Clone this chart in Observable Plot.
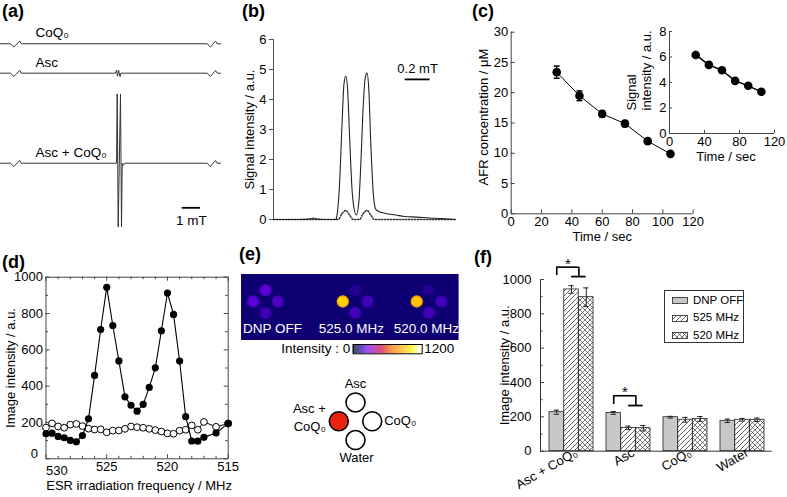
<!DOCTYPE html>
<html><head><meta charset="utf-8">
<script src="https://cdn.jsdelivr.net/npm/d3@7"></script>
<script src="https://cdn.jsdelivr.net/npm/@observablehq/plot@0.6"></script>
<style>
html,body{margin:0;padding:0;background:#fff;}
#fig{position:relative;width:787px;height:497px;overflow:hidden;font-family:"Liberation Sans",Arial,Helvetica,sans-serif;color:#000;background:#fff;}
.lab{position:absolute;font-weight:bold;font-size:18px;line-height:18px;white-space:nowrap;}
.leg{position:absolute;border:1px solid #333;background:#fff;font-size:11.5px;}
.leg div{position:absolute;left:7px;height:14px;line-height:14px;white-space:nowrap;}
.leg svg{vertical-align:middle;margin-right:5px;}
</style></head><body><div id="fig"></div>
<script>
// ================= DATA =================
// (a) ESR spectra (field in mT, intensity in a.u., stacked by offset)
const spectrumNames = ["CoQ₀", "Asc", "Asc + CoQ₀"];
const spectrumOffset = [170.6, 128.6, 0];
const fieldCoQ0 = [0, 0.545, 0.727, 1.05, 1.13, 11.27, 11.45, 11.73, 11.82, 12];
const ampCoQ0   = [0, 0, -4.7, 3.9, 0, 0, -4.7, 3.9, 0, 0];
const fieldAsc  = [0, 0.545, 0.727, 1.05, 1.13, 6.27, 6.33, 6.38, 6.44, 6.52, 6.57, 11.27, 11.45, 11.73, 11.82, 12];
const ampAsc    = [0, 0, -4.7, 3.9, 0, 0, 4.3, -4.3, 4.3, -5, 0, 0, -4.7, 3.9, 0, 0];
const fieldMix  = [0, 0.545, 0.727, 1.05, 1.13, 6.33, 6.365, 6.42, 6.545, 6.60, 6.64, 6.70, 6.76, 11.27, 11.45, 11.73, 11.82, 12];
const ampMix    = [0, 0, -4.7, 3.9, 0, 0, 99, -91, 99, -91, 0, -3, 0, 0, -4.7, 3.9, 0, 0];

// (b) absorption spectrum (relative field, mT)
const fieldB  = [0, 0.2, 0.3, 0.32, 0.34, 0.4, 0.5, 0.505, 0.53, 0.55, 0.565, 0.58, 0.595, 0.61, 0.63, 0.645, 0.665, 0.685, 0.70, 0.72, 0.735, 0.75, 0.765, 0.78, 0.80, 0.815, 0.83, 0.9, 0.98, 1.05, 1.15, 1.25, 1.35, 1.46];
const signalB = [0, 0, 0.02, 0.05, 0.02, 0, 0, 0.05, 1.2, 3.2, 4.5, 4.78, 4.3, 2.8, 1.0, 0.4, 0.15, 0.6, 1.8, 3.8, 4.7, 4.88, 4.3, 2.6, 0.9, 0.4, 0.3, 0.2, 0.15, 0.1, 0.08, 0.05, 0.03, 0];
const fieldB2  = [0, 0.52, 0.55, 0.58, 0.61, 0.64, 0.69, 0.72, 0.75, 0.78, 0.81, 1.46];
const signalB2 = [0, 0, 0.2, 0.3, 0.15, 0, 0, 0.2, 0.3, 0.15, 0, 0];

// (c) AFR decay
const timeSec  = [30, 45, 60, 75, 90, 105];
const afrConc  = [23.4, 19.5, 16.5, 14.9, 12.0, 9.9];
const afrErr   = [1.0, 0.8, 0.5, 0.5, 0.3, 0.2];
const insetSignal = [6.16, 5.38, 4.96, 4.13, 3.74, 3.27];
const insetErr    = [0.3, 0.15, 0.1, 0.1, 0.1, 0.1];

// (d) DNP spectrum
const freqFilled = [530, 529.5, 529, 528.5, 528, 527.5, 527, 526.5, 526, 525.5, 525, 524.5, 524, 523.5, 523, 522.5, 522, 521.5, 521, 520.5, 520, 519.5, 519, 518.5, 518, 517.5, 517, 516, 515];
const intensityAscCoQ0 = [138, 141, 123, 116, 101, 94, 128, 220, 459, 712, 944, 734, 539, 341, 295, 262, 300, 393, 501, 705, 913, 795, 538, 232, 98, 97, 118, 142, 195];
const freqOpen = [530, 529.5, 529, 528.5, 528, 527.5, 527, 526.5, 526, 525.5, 525, 524.5, 524, 523.5, 523, 522.5, 522, 521.5, 521, 520.5, 520, 519.5, 519, 518.5, 518, 517.5, 517, 516, 515];
const intensityAsc = [172, 195, 178, 171, 188, 192, 180, 166, 161, 162, 146, 155, 156, 165, 178, 174, 171, 165, 158, 150, 140, 138, 155, 160, 184, 160, 203, 176, 194];

// (e)/(f) image intensities
const samples = ["Asc + CoQ₀", "Asc", "CoQ₀", "Water"];
const conditions = ["DNP OFF", "525 MHz", "520 MHz"];
const imageLabels = ["DNP OFF", "525.0 MHz", "520.0 MHz"];
const dnpOff = [227, 223, 198, 177];
const errOff = [12, 8, 5, 10];
const mhz525 = [942, 136, 183, 183];
const err525 = [22, 10, 14, 8];
const mhz520 = [897, 134, 188, 183];
const err520 = [54, 16, 14, 10];
const imageBackground = 98;
const colorbarMax = 1200;

// significance brackets (f)
const bracketSample = ["Asc + CoQ₀", "Asc"];
const bracketLow = [1023, 272];
const bracketTop = [1072, 323];
const bracketRight = [1017, 266];
const bracketStar = [1087, 346];

// tick values
const yTicksC = [0, 5, 10, 15, 20, 25, 30];
const xTicksC = [0, 20, 40, 60, 80, 100, 120];
const yTicksInset = [0, 2, 4, 6, 8];
const xTicksInset = [0, 40, 80, 120];
const yTicksD = [0, 100, 200, 300, 400, 500, 600, 700, 800, 900, 1000];
const yLabelsD = [200, 400, 600, 800, 1000];
const xTicksD = [530, 529, 528, 527, 526, 525, 524, 523, 522, 521, 520, 519, 518, 517, 516, 515];
const xLabelsD = [525, 520, 515];
const dCornerLabels = ["0", "530"];
const yTicksF = [0, 100, 200, 300, 400, 500, 600, 700, 800, 900, 1000];
const yLabelsF = [0, 200, 400, 600, 800, 1000];

// ================= STYLE / LAYOUT =================
const FONT = '"Liberation Sans", Arial, Helvetica, sans-serif';
const baseStyle = {fontFamily: FONT, fontSize: "13px", background: "transparent", overflow: "visible", color: "black"};
const fmt = d => String(d);
const fireR = [0,0,1,25,49,73,98,122,146,162,173,184,195,207,217,229,240,252,255,255,255,255,255,255,255,255,255,255,255,255,255,255];
const fireG = [0,0,0,0,0,0,0,0,0,0,0,0,0,14,35,57,79,101,117,133,147,161,175,190,205,219,234,248,255,255,255,255];
const fireB = [0,61,96,130,165,192,220,227,210,181,151,122,93,64,35,5,0,0,0,0,0,0,0,0,0,0,0,35,98,160,223,255];
const fireLUT = fireR.map((r, i) => d3.rgb(r, fireG[i], fireB[i]).formatHex());
const colorOpts = {type: "linear", domain: [0, colorbarMax], range: fireLUT, clamp: true};
const fig = document.getElementById("fig");
function put(node, left, top) { node.style.position = "absolute"; node.style.left = left + "px"; node.style.top = top + "px"; fig.appendChild(node); return node; }
function panelLabel(text, left, top) { const d = document.createElement("div"); d.className = "lab"; d.textContent = text; put(d, left, top); }
const capSymbol = {draw(ctx, size) { const w = Math.sqrt(size / Math.PI); ctx.moveTo(-w, 0); ctx.lineTo(w, 0); }};
const yTitle = (text, dx, extra = {}) => Plot.text([text], {frameAnchor: "left", textAnchor: "middle", rotate: -90, dx, ...extra});
// inward ticks drawn as tick marks inset from the opposite side of the frame
const inY = (values, frameW, len, side = "left") => Plot.tickY(values, {y: d => d, insetLeft: side === "left" ? 0 : frameW - len, insetRight: side === "left" ? frameW - len : 0, stroke: "#444"});
const inX = (values, frameH, len, side = "bottom") => Plot.tickX(values, {x: d => d, insetTop: side === "bottom" ? frameH - len : 0, insetBottom: side === "bottom" ? 0 : frameH - len, stroke: "#444"});

// ================= (a) =================
const aFields = [fieldCoQ0, fieldAsc, fieldMix], aAmps = [ampCoQ0, ampAsc, ampMix];
const aRows = spectrumNames.flatMap((name, k) => aFields[k].map((f, i) => ({name, f, v: aAmps[k][i] + spectrumOffset[k]})));
const aLabels = spectrumNames.map((name, k) => ({name, f: 1.91, v: spectrumOffset[k]}));
const scaleBarA = {field: 9.91, length: 1, level: -63.7};
put(Plot.plot({
  width: 220, height: 240, margin: 0, style: baseStyle,
  x: {domain: [0, 12], axis: null}, y: {domain: [-110.4, 232.4], axis: null},
  marks: [
    Plot.line(aRows, {x: "f", y: "v", z: "name", stroke: "#333", strokeWidth: 1}),
    Plot.text(aLabels, {x: "f", y: "v", text: "name", textAnchor: "start", dy: -11, fontSize: 13.5}),
    Plot.ruleY([scaleBarA], {y: "level", x1: "field", x2: d => d.field + d.length, strokeWidth: 1.8}),
    Plot.text([scaleBarA], {x: d => d.field + d.length / 2, y: "level", text: () => "1 mT", dy: 13, fontSize: 13.5})
  ]
}), 0, 0);

// ================= (b) =================
const bSolid = fieldB.map((f, i) => ({f, v: signalB[i]}));
const bDotted = fieldB2.map((f, i) => ({f, v: signalB2[i]}));
const scaleBarB = {field: 1.056, length: 0.2, level: 4.67};
put(Plot.plot({
  width: 245, height: 210, marginLeft: 48, marginTop: 14, marginBottom: 16, marginRight: 15, style: baseStyle,
  x: {domain: [0, 1.46], axis: null}, y: {domain: [0, 6]},
  marks: [
    Plot.ruleX([0], {y1: 0, y2: 6, stroke: "#555"}),
    Plot.axisY({ticks: [0, 1, 2, 3, 4, 5, 6], tickSize: 4, tickPadding: 3, label: null, tickFormat: fmt, stroke: "#555"}),
    Plot.line(bDotted, {x: "f", y: "v", stroke: "#333", strokeDasharray: "1.3 1.7", curve: "monotone-x"}),
    Plot.line(bSolid, {x: "f", y: "v", stroke: "#222", strokeWidth: 1.1, curve: "monotone-x"}),
    Plot.ruleY([scaleBarB], {y: "level", x1: "field", x2: d => d.field + d.length, strokeWidth: 1.8}),
    Plot.text([scaleBarB], {x: d => d.field + d.length / 2, y: "level", text: () => "0.2 mT", dy: -11}),
    yTitle("Signal intensity / a.u.", -24)
  ]
}), 225, 25);

// ================= (c) main =================
const cRows = timeSec.map((t, i) => ({t, v: afrConc[i], e: afrErr[i]}));
put(Plot.plot({
  width: 230, height: 225, marginLeft: 40.7, marginRight: 7.3, marginTop: 6.7, marginBottom: 36.7, style: baseStyle,
  x: {domain: [0, 120]}, y: {domain: [0, 30]},
  marks: [
    Plot.ruleX([0], {stroke: "#444"}), Plot.ruleY([0], {stroke: "#444"}),
    Plot.axisY({ticks: yTicksC, tickSize: 0, tickPadding: 3, label: null, tickFormat: fmt}),
    Plot.axisX({ticks: xTicksC, tickSize: 0, tickPadding: 3, label: null, tickFormat: fmt}),
    inY(yTicksC, 182, 4), inX(xTicksC, 181.6, 4),
    Plot.line(cRows, {x: "t", y: "v", stroke: "black", strokeWidth: 1}),
    Plot.ruleX(cRows, {x: "t", y1: d => d.v - d.e, y2: d => d.v + d.e}),
    Plot.dot(cRows, {x: "t", y: d => d.v + d.e, symbol: capSymbol, r: 3, stroke: "black"}),
    Plot.dot(cRows, {x: "t", y: d => d.v - d.e, symbol: capSymbol, r: 3, stroke: "black"}),
    Plot.dot(cRows, {x: "t", y: "v", r: 4.3, fill: "black"}),
    yTitle("AFR concentration / μM", -27, {dy: -6}),
    Plot.text(["Time / sec"], {frameAnchor: "bottom", dy: 27})
  ]
}), 470, 25);

// ================= (c) inset =================
const insetRows = timeSec.map((t, i) => ({t, v: insetSignal[i], e: insetErr[i]}));
put(Plot.plot({
  width: 167, height: 145, marginLeft: 49, marginRight: 13, marginTop: 11, marginBottom: 32, style: baseStyle,
  x: {domain: [0, 120]}, y: {domain: [0, 8]},
  marks: [
    Plot.ruleX([0], {stroke: "#444"}), Plot.ruleY([0], {stroke: "#444"}),
    Plot.axisY({ticks: yTicksInset, tickSize: 0, tickPadding: 3, label: null, tickFormat: fmt}),
    Plot.axisX({ticks: xTicksInset, tickSize: 0, tickPadding: 3, label: null, tickFormat: fmt}),
    inY(yTicksInset, 105, 3), inX(xTicksInset, 102, 3),
    Plot.line(insetRows, {x: "t", y: "v", stroke: "black"}),
    Plot.ruleX(insetRows, {x: "t", y1: d => d.v - d.e, y2: d => d.v + d.e}),
    Plot.dot(insetRows, {x: "t", y: "v", r: 4.3, fill: "black"}),
    Plot.text(["Signal\nintensity / a.u."], {frameAnchor: "bottom-left", rotate: -90, textAnchor: "start", lineAnchor: "top", lineHeight: 1.08, dx: -43, dy: -23}),
    Plot.text(["Time / sec"], {frameAnchor: "bottom", dy: 27, dx: 4})
  ]
}), 620, 20);

// ================= (d) =================
const dFilled = freqFilled.map((f, i) => ({f, v: intensityAscCoQ0[i]}));
const dOpen = freqOpen.map((f, i) => ({f, v: intensityAsc[i]}));
const dMajorX = xTicksD.filter(d => d % 5 === 0), dMinorX = xTicksD.filter(d => d % 5 !== 0);
const dMajorY = yTicksD.filter(d => d % 200 === 0), dMinorY = yTicksD.filter(d => d % 200 !== 0);
put(Plot.plot({
  width: 240, height: 232, marginLeft: 45.5, marginRight: 12.3, marginTop: 11.7, marginBottom: 38.7, style: baseStyle,
  x: {domain: [530, 515]}, y: {domain: [0, 1000]},
  marks: [
    Plot.frame({stroke: "#444"}),
    Plot.axisY({ticks: yLabelsD, tickSize: 0, tickPadding: 3, label: null, tickFormat: fmt}),
    Plot.axisX({ticks: xLabelsD, tickSize: 0, tickPadding: 3, label: null, tickFormat: fmt}),
    inY(dMajorY, 182.2, 4), inY(dMinorY, 182.2, 2.5),
    inY(dMajorY, 182.2, 4, "right"), inY(dMinorY, 182.2, 2.5, "right"),
    inX(dMajorX, 181.6, 4), inX(dMinorX, 181.6, 2.5),
    inX(dMajorX, 181.6, 4, "top"), inX(dMinorX, 181.6, 2.5, "top"),
    Plot.text([dCornerLabels[0]], {frameAnchor: "bottom-left", textAnchor: "end", lineAnchor: "middle", dx: -8, dy: -5}),
    Plot.text([dCornerLabels[1]], {frameAnchor: "bottom-left", textAnchor: "start", lineAnchor: "top", dx: 0, dy: 7}),
    Plot.line(dOpen, {x: "f", y: "v", stroke: "black", strokeWidth: 1}),
    Plot.dot(dOpen, {x: "f", y: "v", r: 3.4, fill: "white", stroke: "black", strokeWidth: 1}),
    Plot.line(dFilled, {x: "f", y: "v", stroke: "black", strokeWidth: 1.1}),
    Plot.dot(dFilled, {x: "f", y: "v", r: 3.6, fill: "black"}),
    yTitle("Image intensity / a.u.", -35),
    Plot.text(["ESR irradiation frequency / MHz"], {frameAnchor: "bottom", dy: 31, dx: 2})
  ]
}), 0, 265);

// ================= (e) image strip =================
const imageSlotX = [24, 113.6, 187.6];
const imageRowY = 27;
const phantomCell = {"Asc + CoQ₀": [-1, 0], "Asc": [0, -1], "CoQ₀": [1, 0], "Water": [0, 1]};
const imageValues = [dnpOff, mhz525, mhz520];
const blobs = conditions.flatMap((c, ci) => samples.map((s, si) => ({c, ci, s, v: imageValues[ci][si]})));
const imageLabelX = [1.5, 77.3, 152.3];
put(Plot.plot({
  width: 217.6, height: 66, margin: 0, style: baseStyle,
  x: {domain: [0, 217.6], range: [0, 217.6], axis: null}, y: {domain: [0, 66], range: [0, 66], axis: null},
  color: colorOpts,
  marks: [
    Plot.rect([{v: imageBackground}], {x1: 0, x2: 217.6, y1: 0, y2: 66, fill: "v"}),
    Plot.dot(blobs, {x: d => imageSlotX[d.ci] + phantomCell[d.s][0] * 12.3, y: d => imageRowY + phantomCell[d.s][1] * 11.3, r: 5.5, fill: "v", stroke: d => d.v * 0.88, strokeWidth: 1.3}),
    Plot.text(imageLabels, {x: (d, i) => imageLabelX[i], frameAnchor: "bottom", textAnchor: "start", dy: -7, fill: "white", fontSize: 13.5})
  ]
}), 240.7, 274);

// colour bar
const barStops = d3.range(0, colorbarMax, 6);
put(Plot.plot({
  width: 230, height: 20, marginLeft: 122.7, marginRight: 38.3, marginTop: 6, marginBottom: 4.7, style: baseStyle,
  x: {domain: [0, colorbarMax], axis: null}, y: {axis: null},
  color: colorOpts,
  marks: [
    Plot.rect(barStops, {x1: d => d, x2: d => d + 6, fill: d => d}),
    Plot.frame({stroke: "black"}),
    Plot.text(["Intensity : 0"], {frameAnchor: "left", textAnchor: "end", dx: -3, fontSize: 13.5}),
    Plot.text([String(colorbarMax)], {frameAnchor: "right", textAnchor: "start", dx: 2, fontSize: 13.5})
  ]
}), 230, 338);

// phantom schematic
const schem = samples.map(s => ({s, col: phantomCell[s][0], row: phantomCell[s][1]}));
put(Plot.plot({
  width: 150, height: 100, margin: 0, style: baseStyle,
  x: {domain: [-4.49, 4.49], axis: null}, y: {domain: [-2.70, 2.62], range: [0, 100], axis: null},
  marks: [
    Plot.dot(schem, {x: "col", y: "row", r: 9.5, fill: d => d.s === samples[0] ? "#e8230f" : "white", stroke: "black", strokeWidth: 1.6}),
    Plot.text(schem.filter(d => d.s === "Asc"), {x: "col", y: "row", text: "s", dy: -19}),
    Plot.text(schem.filter(d => d.s === "Water"), {x: "col", y: "row", text: "s", dy: 18, dx: 1}),
    Plot.text(schem.filter(d => d.s === "CoQ₀"), {x: "col", y: "row", text: "s", dx: 12, textAnchor: "start"}),
    Plot.text(schem.filter(d => d.s === "Asc + CoQ₀"), {x: "col", y: "row", text: () => "Asc +\nCoQ₀", dx: -13, dy: -5, textAnchor: "end", lineHeight: 1.38})
  ]
}), 280, 370);

// ================= (f) =================
const fRows = samples.map((s, i) => ({s, off: dnpOff[i], eOff: errOff[i], m525: mhz525[i], e525: err525[i], m520: mhz520[i], e520: err520[i]}));
const brackets = bracketSample.map((s, i) => ({s, low: bracketLow[i], top: bracketTop[i], right: bracketRight[i], star: bracketStar[i]}));
const bw = 44.3, bar = bw / 3;
const series = [
  {key: "off", err: "eOff", fill: "#c8c8c8", k: 0},
  {key: "m525", err: "e525", fill: "url(#hatch525)", k: 1},
  {key: "m520", err: "e520", fill: "url(#hatch520)", k: 2}
];
const fMarks = [];
for (const sr of series) {
  fMarks.push(Plot.barY(fRows, {x: "s", y: sr.key, fill: sr.fill, stroke: "#222", strokeWidth: 0.8, insetLeft: sr.k * bar, insetRight: (2 - sr.k) * bar}));
}
for (const sr of series) {
  const c = (sr.k + 0.5) * bar;
  fMarks.push(Plot.ruleX(fRows, {x: "s", y1: d => d[sr.key] - d[sr.err], y2: d => d[sr.key] + d[sr.err], dx: c - bw / 2, stroke: "#222"}));
  fMarks.push(Plot.tickY(fRows, {x: "s", y: d => d[sr.key] + d[sr.err], insetLeft: c - 2.8, insetRight: bw - c - 2.8, stroke: "#222"}));
  fMarks.push(Plot.tickY(fRows, {x: "s", y: d => d[sr.key] - d[sr.err], insetLeft: c - 2.8, insetRight: bw - c - 2.8, stroke: "#222"}));
}
const plotF = Plot.plot({
  width: 317, height: 247, marginLeft: 70, marginRight: 15.3, marginTop: 29, marginBottom: 46.3, style: baseStyle,
  x: {type: "band", domain: samples, paddingInner: 0.236, paddingOuter: 0.125, axis: null},
  y: {domain: [0, 1000]},
  marks: [
    ...fMarks,
    Plot.ruleY([0], {stroke: "#333"}),
    Plot.frame({anchor: "left", stroke: "#333"}),
    Plot.axisY({ticks: yLabelsF, tickSize: 0, tickPadding: 9, label: null, tickFormat: fmt}),
    inY(yTicksF.filter(d => d % 200 === 0), 231.7, 4), inY(yTicksF.filter(d => d % 200 !== 0), 231.7, 2.5),
    Plot.ruleX(brackets, {x: "s", y1: "low", y2: "top", dx: bar / 2 - bw / 2, strokeWidth: 1.6}),
    Plot.tickY(brackets, {x: "s", y: "top", insetLeft: bar / 2, insetRight: bar, strokeWidth: 1.6}),
    Plot.ruleX(brackets, {x: "s", y1: "right", y2: "top", dx: 2 * bar - bw / 2, strokeWidth: 1.6}),
    Plot.tickY(brackets, {x: "s", y: "right", insetLeft: 1.5 * bar, insetRight: bar / 2, strokeWidth: 1.8}),
    Plot.text(brackets, {x: "s", y: "star", text: () => "*", dx: (bar / 2 + 2 * bar) / 2 - bw / 2, fontSize: 15}),
    Plot.text(samples, {x: d => d, frameAnchor: "bottom", rotate: -30, textAnchor: "end", dy: 4, dx: 7}),
    yTitle("Image intensity / a.u.", -36)
  ]
});
plotF.insertAdjacentHTML("afterbegin", `<defs>
 <pattern id="hatch525" patternUnits="userSpaceOnUse" width="5" height="5">
  <rect width="5" height="5" fill="white"/>
  <path d="M-1,1 l2,-2 M0,5 l5,-5 M4,6 l2,-2" stroke="#222" stroke-width="0.7"/>
 </pattern>
 <pattern id="hatch520" patternUnits="userSpaceOnUse" width="5" height="5">
  <rect width="5" height="5" fill="white"/>
  <path d="M-1,1 l2,-2 M0,5 l5,-5 M4,6 l2,-2 M-1,4 l2,2 M0,0 l5,5 M4,-1 l2,2" stroke="#222" stroke-width="0.6"/>
 </pattern>
</defs>`);
put(plotF, 470, 250);

// legend (f)
const leg = document.createElement("div");
leg.className = "leg";
leg.style.width = "78px"; leg.style.height = "51px";
leg.innerHTML = conditions.map((c, i) => `<div style="top:${2 + i * 17.3}px"><svg width="16" height="7"><rect x="0.5" y="0.5" width="15" height="6" fill="${series[i].fill}" stroke="#222" stroke-width="0.8"/></svg>${c}</div>`).join("");
put(leg, 664, 290);

// panel letters last so they sit on top
panelLabel("(a)", 2, 2); panelLabel("(b)", 242, 2); panelLabel("(c)", 472, 2);
panelLabel("(d)", 2, 253); panelLabel("(e)", 239, 245); panelLabel("(f)", 474, 248);
</script></body></html>
